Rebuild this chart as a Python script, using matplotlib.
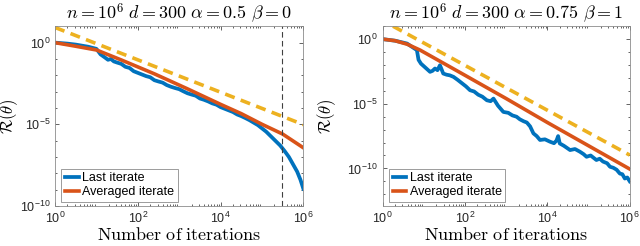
import numpy as np
import matplotlib
matplotlib.use("Agg")
import matplotlib.pyplot as plt
from matplotlib.ticker import FuncFormatter, LogLocator, NullFormatter

plt.rcParams["mathtext.fontset"] = "cm"
plt.rcParams["mathtext.rm"] = "Liberation Sans"
plt.rcParams["mathtext.it"] = "Liberation Sans:italic"
plt.rcParams["mathtext.bf"] = "Liberation Sans:bold"
plt.rcParams["font.family"] = ["Liberation Sans", "DejaVu Sans"]

BLUE = "#0072BD"
ORANGE = "#D95319"
YELLOW = "#EDB120"

# ---- left panel: alpha = 0.5, beta = 0 (log10 values)
left_last_x = [0.0, 0.3, 0.5, 0.8, 1.0, 1.05, 1.1, 1.2, 1.28, 1.35, 1.42, 1.5, 1.6, 1.7,
               1.8, 1.9, 2.0, 2.1, 2.2, 2.3, 2.4, 2.5, 2.6, 2.7, 2.8, 2.9, 3.0, 3.1,
               3.2, 3.3, 3.4, 3.5, 3.6, 3.7, 3.8, 3.9, 4.0, 4.1, 4.2, 4.3, 4.4, 4.5,
               4.6, 4.7, 4.8, 4.9, 5.0, 5.1, 5.2, 5.3, 5.44, 5.55, 5.65, 5.75, 5.85,
               5.93, 6.0]
left_last_y = [0.0, -0.06, -0.12, -0.25, -0.38, -0.55, -0.72, -0.9, -1.05, -1.0, -1.15,
               -1.22, -1.3, -1.48, -1.55, -1.75, -1.85, -1.95, -2.05, -2.12, -2.3, -2.38,
               -2.45, -2.6, -2.7, -2.78, -2.85, -2.98, -3.1, -3.18, -3.25, -3.42, -3.5,
               -3.6, -3.72, -3.8, -3.95, -4.05, -4.15, -4.25, -4.4, -4.5, -4.62, -4.75,
               -4.9, -5.05, -5.25, -5.45, -5.7, -5.95, -6.3, -6.65, -7.0, -7.45, -7.9,
               -8.4, -8.95]
left_avg_x = [0.0, 0.5, 1.0, 1.05, 1.6, 2.4, 3.2, 4.0, 4.5, 5.0, 5.5, 6.0]
left_avg_y = [0.0, -0.22, -0.45, -0.5, -1.06, -1.91, -2.83, -3.78, -4.35, -5.0, -5.6, -6.44]
left_ref_x = [0.0, 6.0]
left_ref_y = [0.93, -5.02]
left_vline = 3e5

# ---- right panel: alpha = 0.75, beta = 1
right_last_x = [0.0, 0.3, 0.59, 0.83, 0.87, 0.93, 0.99, 1.07, 1.15, 1.21, 1.27, 1.33,
                1.39, 1.47, 1.55, 1.63, 1.72, 1.82, 1.92, 2.02, 2.12, 2.22, 2.32, 2.42,
                2.53, 2.62, 2.69, 2.8, 2.93, 3.05, 3.15, 3.25, 3.33, 3.42, 3.5, 3.58,
                3.66, 3.74, 3.82, 3.94, 4.06, 4.16, 4.22, 4.26, 4.3, 4.4, 4.55, 4.67,
                4.79, 4.88, 4.95, 5.05, 5.19, 5.27, 5.35, 5.45, 5.52, 5.6, 5.68, 5.76,
                5.82, 5.88, 5.94, 6.0]
right_last_y = [0.0, -0.12, -0.34, -0.85, -1.6, -1.9, -2.07, -2.3, -2.53, -2.45, -2.27,
                -2.4, -2.02, -2.66, -2.75, -2.8, -2.92, -3.15, -3.4, -3.65, -3.95, -4.05,
                -4.3, -4.45, -4.73, -4.8, -4.6, -5.15, -5.63, -5.7, -5.9, -6.0, -6.2,
                -6.35, -6.45, -6.75, -7.29, -7.5, -7.8, -7.75, -7.93, -8.05, -7.85, -7.5,
                -8.07, -8.25, -8.58, -8.5, -8.71, -8.9, -9.1, -9.0, -9.35, -9.25, -9.47,
                -9.6, -9.87, -9.95, -10.1, -10.4, -10.45, -10.78, -10.7, -11.0]
right_avg_x = [0.0, 0.3, 0.6, 0.91, 2.0, 3.0, 4.0, 5.0, 6.0]
right_avg_y = [0.0, -0.12, -0.4, -0.85, -2.8, -4.6, -6.45, -8.25, -10.05]
right_ref_x = [0.25, 6.0]
right_ref_y = [1.0, -8.97]

titles = [r"$n=10^6\ d=300\ \alpha=0.5\ \beta=0$",
          r"$n=10^6\ d=300\ \alpha=0.75\ \beta=1$"]
ylabel_x = [-0.143, -0.18]


def pow10_label(v, pos):
    e = int(round(np.log10(v)))
    return r"$10^{%d}$" % e


def style_axis(ax, ylim, yticks, lab_x):
    ax.set_xscale("log")
    ax.set_yscale("log")
    ax.set_xlim(1, 1e6)
    ax.set_ylim(*ylim)
    ax.set_xticks([1, 1e2, 1e4, 1e6])
    ax.set_yticks(yticks)
    ax.xaxis.set_minor_locator(LogLocator(base=10, subs=np.arange(2, 10), numticks=50))
    ax.yaxis.set_minor_locator(LogLocator(base=10, subs=[1.0], numticks=50))
    ax.xaxis.set_minor_formatter(NullFormatter())
    ax.yaxis.set_minor_formatter(NullFormatter())
    ax.xaxis.set_major_formatter(FuncFormatter(pow10_label))
    ax.yaxis.set_major_formatter(FuncFormatter(pow10_label))
    ax.tick_params(which="both", direction="in", top=True, right=True,
                   colors="#262626", labelsize=9, width=0.5)
    ax.tick_params(which="major", length=3)
    ax.tick_params(which="minor", length=1.6)
    for lab in ax.get_xticklabels() + ax.get_yticklabels():
        lab.set_math_fontfamily("custom")
    for sp in ax.spines.values():
        sp.set_color("#8c8c8c")
        sp.set_linewidth(0.6)
    ax.set_xlabel(r"$\mathrm{Number\ of\ iterations}$", fontsize=13, labelpad=1)
    ax.set_ylabel(r"$\mathcal{R}(\theta)$", fontsize=12)
    ax.yaxis.set_label_coords(lab_x, 0.5)
    ax.xaxis.label.set_math_fontfamily("cm")
    ax.yaxis.label.set_math_fontfamily("cm")


fig = plt.figure(figsize=(6.4, 2.46), dpi=100)
ax1 = fig.add_axes([0.086, 0.163, 0.388, 0.732])
ax2 = fig.add_axes([0.598, 0.163, 0.386, 0.732])

panels = [
    (ax1, left_last_x, left_last_y, left_avg_x, left_avg_y, left_ref_x, left_ref_y,
     (1e-10, 10 ** 1.03), [1e-10, 1e-5, 1]),
    (ax2, right_last_x, right_last_y, right_avg_x, right_avg_y, right_ref_x, right_ref_y,
     (10 ** -12.9, 10 ** 1.03), [1e-10, 1e-5, 1]),
]

for i, (ax, lx, ly, ax_, ay, rx, ry, ylim, yt) in enumerate(panels):
    ax.plot(10 ** np.array(lx), 10 ** np.array(ly), color=BLUE, lw=2.7,
            label="Last iterate", solid_joinstyle="round")
    ax.plot(10 ** np.array(ax_), 10 ** np.array(ay), color=ORANGE, lw=2.6,
            label="Averaged iterate")
    ax.plot(10 ** np.array(rx), 10 ** np.array(ry), color=YELLOW, lw=2.6,
            ls=(0, (2.8, 1.8)))
    if i == 0:
        ax.axvline(left_vline, color="#404040", lw=0.8, ls=(0, (5, 3)))
    style_axis(ax, ylim, yt, ylabel_x[i])
    t = ax.set_title(titles[i], fontsize=13, pad=4)
    t.set_math_fontfamily("cm")
    leg = ax.legend(loc="lower left", bbox_to_anchor=(0.025, 0.022), borderaxespad=0,
                    fontsize=9, handlelength=1.1, handletextpad=0.25,
                    borderpad=0.3, labelspacing=0.15, fancybox=False, framealpha=1)
    leg.get_frame().set_edgecolor("#8c8c8c")
    leg.get_frame().set_linewidth(0.6)

fig.savefig("out.png", dpi=100)
